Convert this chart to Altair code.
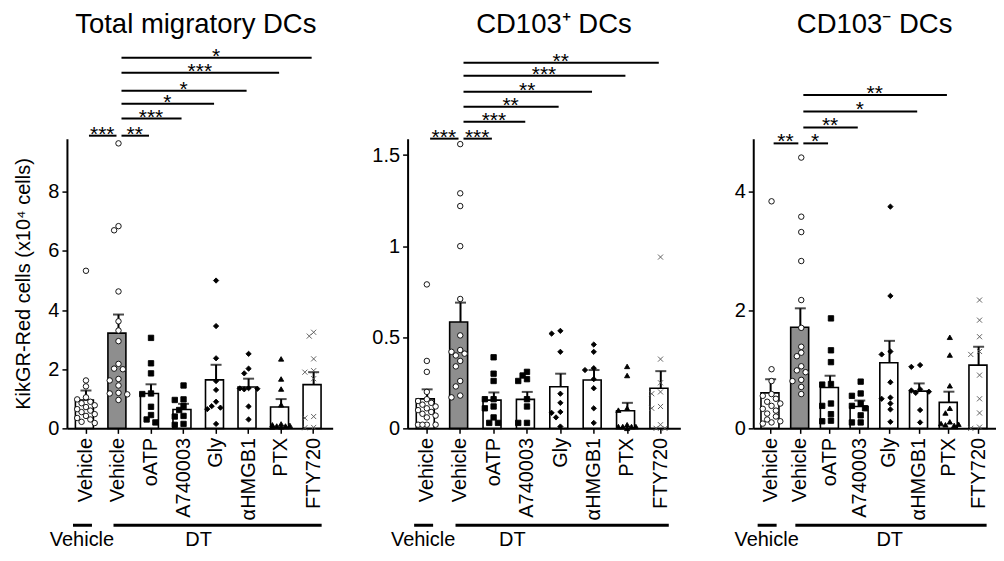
import altair as alt
import pandas as pd

FONT = "Liberation Sans"

# ---------------- data ----------------
categories = ["Vehicle_ctrl", "Vehicle_DT", "oATP", "A740003", "Gly", "αHMGB1", "PTX", "FTY720"]
markers = ["circle", "circle", "square", "square", "diamond", "diamond", "triangle", "cross"]
bar_fills = ["white", "#8e8e8e", "white", "white", "white", "white", "white", "white"]

panel_titles = ["Total migratory DCs", "CD103⁺ DCs", "CD103⁻ DCs"]
y_title = "KikGR-Red cells (x10⁴ cells)"
group_labels = ["Vehicle", "DT"]

# Total migratory DCs
total_mean = [0.96, 3.22, 1.18, 0.64, 1.64, 1.40, 0.72, 1.48]
total_sem = [0.32, 0.63, 0.31, 0.19, 0.51, 0.28, 0.27, 0.42]
total_points = [
    [5.33, 1.62, 1.42, 1.05, 0.98, 0.90, 0.85, 0.78, 0.72, 0.65, 0.60, 0.55, 0.48, 0.42, 0.35, 0.30, 0.22, 0.18],
    [9.64, 6.84, 6.70, 4.63, 3.62, 3.31, 2.95, 2.18, 2.02, 2.00, 1.67, 1.62, 1.45, 1.20, 1.18, 1.15, 0.96],
    [3.06, 2.20, 1.86, 1.18, 1.16, 0.73, 0.45, 0.30, 0.20],
    [1.45, 0.98, 0.96, 0.75, 0.62, 0.42, 0.40, 0.15, 0.12],
    [5.00, 3.46, 2.37, 1.60, 1.30, 0.90, 0.75, 0.70, 0.65, 0.15],
    [2.52, 2.02, 1.86, 1.36, 1.35, 1.34, 1.32, 0.74, 0.30],
    [2.35, 1.67, 1.33, 0.80, 0.15, 0.12, 0.10, 0.08, 0.08, 0.05, 0.05],
    [3.25, 3.12, 2.35, 1.95, 1.90, 1.68, 0.40, 0.35, 0.03, 0.02],
]
total_ticks = [0, 2, 4, 6, 8]
total_ymax = 9.8
total_brackets = [
    ("Vehicle_ctrl", "Vehicle_DT", 9.90, "***"),
    ("Vehicle_DT", "oATP", 9.90, "**"),
    ("Vehicle_DT", "A740003", 10.48, "***"),
    ("Vehicle_DT", "Gly", 10.98, "*"),
    ("Vehicle_DT", "αHMGB1", 11.42, "*"),
    ("Vehicle_DT", "PTX", 12.03, "***"),
    ("Vehicle_DT", "FTY720", 12.54, "*"),
]

# CD103+ DCs
cd103p_mean = [0.162, 0.584, 0.155, 0.159, 0.228, 0.265, 0.097, 0.220]
cd103p_sem = [0.052, 0.106, 0.042, 0.041, 0.072, 0.055, 0.043, 0.094]
cd103p_points = [
    [0.79, 0.37, 0.31, 0.20, 0.16, 0.15, 0.14, 0.13, 0.12, 0.11, 0.10, 0.09, 0.08, 0.07, 0.06, 0.02, 0.02, 0.02, 0.02],
    [1.56, 1.29, 1.22, 1.00, 0.71, 0.51, 0.43, 0.42, 0.41, 0.40, 0.37, 0.34, 0.26, 0.23, 0.18, 0.17],
    [0.39, 0.30, 0.26, 0.16, 0.16, 0.12, 0.11, 0.06, 0.03, 0.03],
    [0.31, 0.29, 0.27, 0.26, 0.16, 0.12, 0.03, 0.03],
    [0.535, 0.52, 0.42, 0.19, 0.14, 0.09, 0.085, 0.06, 0.01],
    [0.46, 0.42, 0.33, 0.32, 0.27, 0.22, 0.11, 0.03],
    [0.34, 0.29, 0.11, 0.10, 0.02, 0.01, 0.01, 0.01, 0.01, 0.0],
    [0.94, 0.38, 0.25, 0.20, 0.19, 0.12, 0.11, 0.02, 0.0, 0.0],
]
cd103p_ticks = [0, 0.5, 1, 1.5]
cd103p_ymax = 1.59
cd103p_brackets = [
    ("Vehicle_ctrl", "Vehicle_DT", 1.59, "***"),
    ("Vehicle_DT", "oATP", 1.59, "***"),
    ("Vehicle_DT", "A740003", 1.683, "***"),
    ("Vehicle_DT", "Gly", 1.765, "**"),
    ("Vehicle_DT", "αHMGB1", 1.848, "**"),
    ("Vehicle_DT", "PTX", 1.935, "***"),
    ("Vehicle_DT", "FTY720", 2.007, "**"),
]

# CD103- DCs
cd103n_mean = [0.60, 1.71, 0.69, 0.37, 1.11, 0.63, 0.44, 1.07]
cd103n_sem = [0.23, 0.32, 0.20, 0.10, 0.37, 0.13, 0.18, 0.31]
cd103n_points = [
    [3.84, 1.00, 0.80, 0.58, 0.55, 0.50, 0.45, 0.42, 0.38, 0.33, 0.30, 0.25, 0.20, 0.15, 0.12, 0.10, 0.08],
    [4.58, 3.58, 3.32, 2.83, 2.17, 1.70, 1.38, 1.28, 1.22, 1.05, 0.98, 0.95, 0.82, 0.80, 0.70, 0.58],
    [1.86, 1.32, 1.12, 0.75, 0.74, 0.42, 0.38, 0.24, 0.13, 0.12],
    [0.79, 0.59, 0.55, 0.42, 0.38, 0.34, 0.22, 0.10, 0.10],
    [3.75, 2.24, 1.30, 1.25, 0.78, 0.52, 0.50, 0.42, 0.32, 0.11],
    [1.07, 1.04, 0.66, 0.64, 0.62, 0.60, 0.31, 0.10],
    [1.54, 1.24, 0.72, 0.34, 0.26, 0.11, 0.08, 0.07, 0.06, 0.05],
    [2.17, 1.83, 1.55, 1.30, 1.25, 0.90, 0.50, 0.26, 0.02, 0.0],
]
cd103n_ticks = [0, 2, 4]
cd103n_ymax = 4.9
cd103n_brackets = [
    ("Vehicle_ctrl", "Vehicle_DT", 4.82, "**"),
    ("Vehicle_DT", "oATP", 4.82, "*"),
    ("Vehicle_DT", "A740003", 5.09, "**"),
    ("Vehicle_DT", "αHMGB1", 5.36, "*"),
    ("Vehicle_DT", "PTX", 5.64, "**"),
]

# ---------------- styling ----------------
H = 290
PI, PO = 0.35, 0.26
marker_types = ["circle", "square", "diamond", "triangle", "cross"]
marker_shapes = ["circle", "square", "diamond", "triangle-up", "M-1,-1L1,1M-1,1L1,-1"]
marker_fills = ["white", "black", "black", "black", "transparent"]
marker_strokes = ["black", "black", "black", "black", "#555555"]
marker_sizes = [30, 26, 22, 24, 30]


def beeswarm(vals, ppu, d=5.6):
    placed = []
    offs = [0.0] * len(vals)
    order = sorted(range(len(vals)), key=lambda i: -vals[i])
    cands = [0, -4.5, 4.5, -9, 9]
    for i in order:
        y = vals[i] * ppu
        best, best_d = 0, -1
        for c in cands:
            md = min([((c - px) ** 2 + (y - py) ** 2) ** 0.5 for px, py in placed] or [99])
            if md >= d:
                best = c
                break
            if md > best_d:
                best, best_d = c, md
        placed.append((best, y))
        offs[i] = best
    return offs


def panel(title, means, sems, points, brackets, ticks, ymax, W, show_ytitle, dt_dx, title_dx, min_extent):
    n = len(categories)
    step = W / (n - PI + 2 * PO)
    bw = step * (1 - PI)
    ppu = H / ymax

    XS = alt.Scale(domain=categories, paddingInner=PI, paddingOuter=PO)
    XA = alt.Axis(labelAngle=-90, labelExpr="split(datum.label, '_')[0]", labelPadding=4,
                  tickSize=5, domainWidth=2, tickWidth=1.5)
    YS = alt.Scale(domain=[0, ymax], nice=False, zero=True)
    if show_ytitle:
        YA = alt.Axis(values=ticks, format="~g", title=y_title, titlePadding=14,
                      tickSize=5, labelPadding=3, domainWidth=2, tickWidth=1.5)
    else:
        YA = alt.Axis(values=ticks, format="~g", tickSize=5, labelPadding=3, domainWidth=2,
                      tickWidth=1.5, minExtent=min_extent)

    def X(f):
        return alt.X(f, type="nominal", scale=XS, axis=XA, title=None)

    def Y(f):
        return alt.Y(f, type="quantitative", scale=YS, axis=YA,
                     title=y_title if show_ytitle else None)

    bars = pd.DataFrame({
        "cat": categories, "mean": means,
        "top": [m + s for m, s in zip(means, sems)], "fill": bar_fills,
    })
    rows = []
    for cat, mk, vals in zip(categories, markers, points):
        for v, o in zip(vals, beeswarm(vals, ppu)):
            rows.append({"cat": cat, "marker": mk, "val": v, "jit": o})
    pts = pd.DataFrame(rows)

    br = pd.DataFrame([
        {"a": a, "b": b, "lvl": y, "lab": lab,
         "ia": categories.index(a), "ib": categories.index(b)} for a, b, y, lab in brackets
    ])
    br["mid2"] = br["ia"] + br["ib"]
    br["midcat"] = [categories[m // 2] for m in br["mid2"]]
    br_whole = br[br["mid2"] % 2 == 0]
    br_half = br[br["mid2"] % 2 == 1]

    bar_layer = alt.Chart(bars).mark_bar(stroke="black", strokeWidth=1.6).encode(
        x=X("cat"), y=Y("mean"), fill=alt.Fill("fill:N", scale=None))
    err_layer = alt.Chart(bars).mark_rule(color="black", strokeWidth=2).encode(
        x=X("cat"), y=Y("mean"), y2=alt.Y2("top"))
    cap_layer = alt.Chart(bars).mark_tick(color="black", thickness=2, size=11).encode(
        x=X("cat"), y=Y("top"))
    pt_layer = alt.Chart(pts).mark_point(filled=True, strokeWidth=0.9, opacity=1).encode(
        x=X("cat"),
        xOffset=alt.XOffset("jit:Q", scale=alt.Scale(domain=[-bw / 2, bw / 2], nice=False, zero=False)),
        y=Y("val"),
        shape=alt.Shape("marker:N", scale=alt.Scale(domain=marker_types, range=marker_shapes), legend=None),
        fill=alt.Fill("marker:N", scale=alt.Scale(domain=marker_types, range=marker_fills), legend=None),
        stroke=alt.Stroke("marker:N", scale=alt.Scale(domain=marker_types, range=marker_strokes), legend=None),
        size=alt.Size("marker:O", scale=alt.Scale(domain=marker_types, range=marker_sizes), legend=None),
    )
    br_rules = alt.Chart(br).mark_rule(color="black", strokeWidth=2, xOffset=3, x2Offset=-2).encode(
        x=X("a"), x2=alt.X2("b"), y=Y("lvl"))
    txt_kw = dict(font=FONT, fontSize=21, baseline="alphabetic", dy=5, color="black")
    br_txt1 = alt.Chart(br_whole).mark_text(**txt_kw).encode(x=X("midcat"), y=Y("lvl"), text="lab:N")
    br_txt2 = alt.Chart(br_half).mark_text(dx=step / 2, **txt_kw).encode(x=X("midcat"), y=Y("lvl"), text="lab:N")

    ttl = alt.Chart(pd.DataFrame({"t": [title]})).mark_text(
        font=FONT, fontSize=27.5, baseline="alphabetic", align="center", color="black", dx=title_dx).encode(
        x=alt.value(W / 2), y=alt.value(-106), text="t:N")

    grp = pd.DataFrame({"lab": group_labels, "a": ["Vehicle_ctrl", "Vehicle_DT"],
                        "b": ["Vehicle_ctrl", "FTY720"]})
    g_veh_line = alt.Chart(grp.iloc[[0]]).mark_rule(color="black", strokeWidth=3, xOffset=-13, x2Offset=6).encode(
        x=X("a"), x2=alt.X2("b"), y=alt.value(H + 97))
    g_dt_line = alt.Chart(grp.iloc[[1]]).mark_rule(color="black", strokeWidth=3, xOffset=-5, x2Offset=8).encode(
        x=X("a"), x2=alt.X2("b"), y=alt.value(H + 97))
    g_veh_txt = alt.Chart(grp.iloc[[0]]).mark_text(font=FONT, fontSize=20, baseline="alphabetic", dx=-4,
                                                    color="black").encode(
        x=X("a"), y=alt.value(H + 118), text="lab:N")
    dt_pos = pd.DataFrame({"lab": [group_labels[1]], "c": ["A740003"]})
    g_dt_txt = alt.Chart(dt_pos).mark_text(font=FONT, fontSize=20, baseline="alphabetic", dx=dt_dx,
                                          color="black").encode(
        x=X("c"), y=alt.value(H + 118), text="lab:N")

    return alt.layer(bar_layer, err_layer, cap_layer, pt_layer, br_rules, br_txt1, br_txt2, ttl,
                     g_veh_line, g_dt_line, g_veh_txt, g_dt_txt).properties(width=W, height=H)


p1 = panel(panel_titles[0], total_mean, total_sem, total_points, total_brackets, total_ticks,
           total_ymax, 266, True, 15, -4, 0)
p2 = panel(panel_titles[1], cd103p_mean, cd103p_sem, cd103p_points, cd103p_brackets, cd103p_ticks,
           cd103p_ymax, 273, False, -15, 10, 0)
p3 = panel(panel_titles[2], cd103n_mean, cd103n_sem, cd103n_points, cd103n_brackets, cd103n_ticks,
           cd103n_ymax, 243, False, 30, 0, 34)

chart = alt.hconcat(p1, p2, p3, spacing=39).properties(
    padding={"left": 5, "top": 2.5, "right": 0, "bottom": 0}
).configure_view(strokeWidth=0).configure_axis(
    labelFont=FONT, labelFontSize=20, labelColor="black", titleFont=FONT, titleFontSize=20,
    titleFontWeight="normal", titleColor="black", domainColor="black", tickColor="black", grid=False,
)

chart.save("out.html", embed_options={"renderer": "svg", "actions": False})
